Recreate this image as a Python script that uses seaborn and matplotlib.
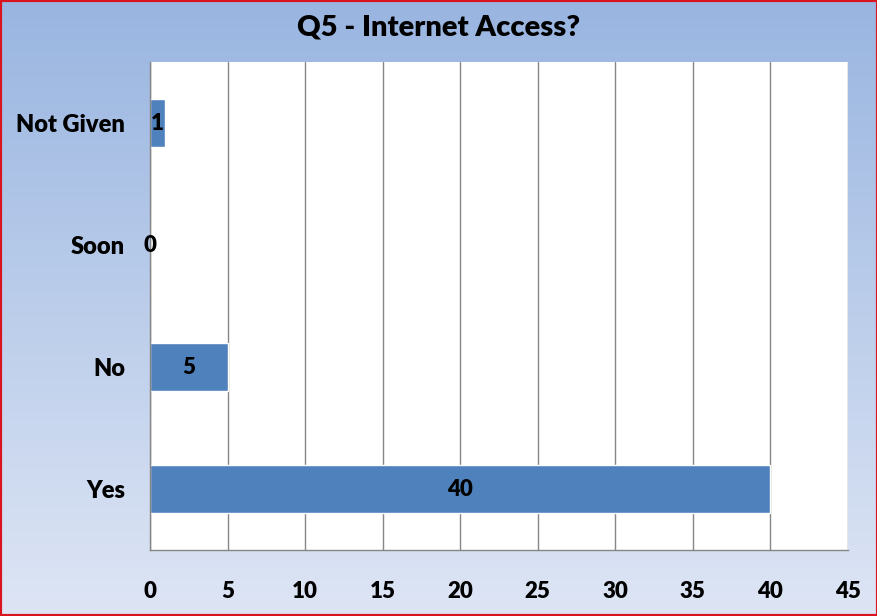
import numpy as np
import pandas as pd
import matplotlib.pyplot as plt
import seaborn as sns

categories = ['Not Given', 'Soon', 'No', 'Yes']
counts = [1, 0, 5, 40]
xticks = [0, 5, 10, 15, 20, 25, 30, 35, 40, 45]

df = pd.DataFrame({'answer': categories, 'count': counts})

sns.set_style('white')
plt.rcParams['font.family'] = ['Lato', 'DejaVu Sans']
plt.rcParams['text.color'] = 'black'
plt.rcParams['xtick.color'] = 'black'
plt.rcParams['ytick.color'] = 'black'

fig = plt.figure(figsize=(8.78, 6.16), dpi=100)

# gradient background behind everything
bg = fig.add_axes([0, 0, 1, 1], zorder=0)
grad = np.linspace(0, 1, 256).reshape(-1, 1)
top = np.array([0.60, 0.71, 0.88])
bot = np.array([0.87, 0.90, 0.96])
img = top + (bot - top) * grad[..., None]
bg.imshow(img, aspect='auto', extent=[0, 1, 0, 1])
bg.set_axis_off()

ax = fig.add_axes([0.1708, 0.1071, 0.795, 0.7922], zorder=1)
sns.barplot(data=df, y='answer', x='count', order=categories, orient='h',
            color='#4F81BD', saturation=1, width=0.4, ax=ax)

ax.set_facecolor('white')
ax.set_xlim(0, 45)
ax.set_ylim(3.5, -0.5)
ax.set_xticks(xticks)
ax.set_xticklabels([str(t) for t in xticks], fontsize=16, fontweight='heavy')
ax.set_yticks(range(len(categories)))
ax.set_yticklabels(categories, fontsize=17, fontweight='heavy')
ax.tick_params(axis='y', which='major', length=0, pad=18, colors='black')
ax.set_yticks(np.arange(-0.5, 4, 1), minor=True)
ax.tick_params(axis='y', which='minor', length=9, color='#868686', width=1)
ax.tick_params(axis='x', which='major', length=8, color='#868686', width=1,
               direction='out', pad=14, labelcolor='black')
ax.xaxis.grid(True, color='#868686', linewidth=1)
ax.set_axisbelow(True)
for side in ['top', 'right']:
    ax.spines[side].set_visible(False)
for side in ['left', 'bottom']:
    ax.spines[side].set_color('#868686')
    ax.spines[side].set_linewidth(1)
ax.set_xlabel('')
ax.set_ylabel('')

for c in ax.containers:
    ax.bar_label(c, label_type='center', fontsize=16, fontweight='heavy',
                 color='black')

fig.text(0.5, 0.955, 'Q5 - Internet Access?', ha='center', va='center',
         fontsize=21, fontweight='heavy', color='black')

fig.patches.append(plt.Rectangle((0, 0), 1, 1, transform=fig.transFigure,
                                 fill=False, edgecolor='#D9141E', linewidth=3,
                                 zorder=5))

fig.savefig('out.png', dpi=100)
